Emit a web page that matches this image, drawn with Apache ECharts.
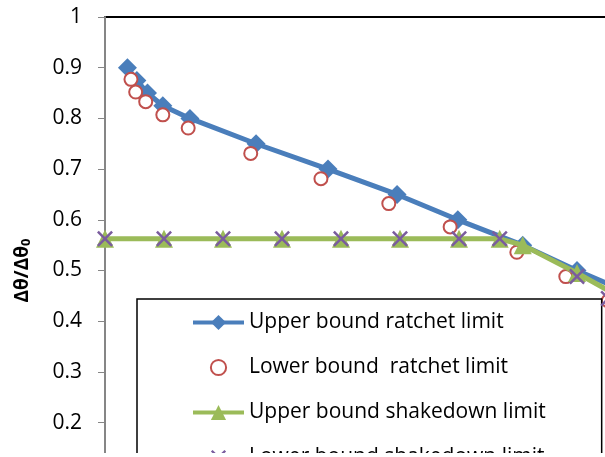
<!DOCTYPE html>
<html><head><meta charset="utf-8">
<script src="https://cdn.jsdelivr.net/npm/echarts@6/dist/echarts.min.js"></script>
<style>html,body{margin:0;padding:0;background:#fff;overflow:hidden;}#wrap{width:605px;height:453px;overflow:hidden;position:relative;}#c{width:720px;height:600px;}</style>
</head><body><div id="wrap"><div id="c"></div></div>
<script>
// Data (x in relative units, y = Δθ/Δθ0)
const upperRatchetX = [0.038, 0.054, 0.072, 0.098, 0.144, 0.256, 0.378, 0.495, 0.598, 0.708, 0.800, 0.900];
const upperRatchetY = [0.900, 0.875, 0.850, 0.825, 0.800, 0.750, 0.700, 0.650, 0.600, 0.550, 0.500, 0.450];
const lowerRatchetX = [0.044, 0.052, 0.069, 0.098, 0.141, 0.247, 0.366, 0.481, 0.585, 0.698, 0.781, 0.853];
const lowerRatchetY = [0.877, 0.852, 0.833, 0.807, 0.781, 0.731, 0.681, 0.632, 0.586, 0.536, 0.488, 0.440];
const upperShakeX = [0.0, 0.1, 0.2, 0.3, 0.4, 0.5, 0.6, 0.669, 0.708, 0.800, 0.900];
const upperShakeY = [0.5625, 0.5625, 0.5625, 0.5625, 0.5625, 0.5625, 0.5625, 0.5625, 0.550, 0.495, 0.430];
const lowerShakeX = [0.0, 0.1, 0.2, 0.3, 0.4, 0.5, 0.6, 0.669, 0.800, 0.853];
const lowerShakeY = [0.5625, 0.5625, 0.5625, 0.5625, 0.5625, 0.5625, 0.5625, 0.5625, 0.488, 0.445];
const seriesNames = ['Upper bound ratchet limit', 'Lower bound  ratchet limit', 'Upper bound shakedown limit', 'Lower bound shakedown limit'];
const yTickLabels = ['0', '0.1', '0.2', '0.3', '0.4', '0.5', '0.6', '0.7', '0.8', '0.9', '1'];

const zip = (xs, ys) => xs.map((x, i) => [x, ys[i]]);
const FONT = 'Open Sans';
const crossPath = 'path://M0,1.1L1.1,0L5,3.9L8.9,0L10,1.1L6.1,5L10,8.9L8.9,10L5,6.1L1.1,10L0,8.9L3.9,5Z';

const chart = echarts.init(document.getElementById('c'), null, {renderer: 'canvas'});
chart.setOption({
  animation: false,
  backgroundColor: '#fff',
  textStyle: {fontFamily: FONT},
  grid: {left: 105, top: 17, width: 590, height: 507, show: true, borderColor: '#000', borderWidth: 2, backgroundColor: 'transparent', containLabel: false, outerBoundsMode: 'none'},
  xAxis: {type: 'value', min: 0, max: 1, show: false},
  yAxis: {
    type: 'value', min: 0, max: 1, interval: 0.1,
    axisLine: {show: true, lineStyle: {color: '#868686', width: 2}},
    axisTick: {show: true, length: 7, lineStyle: {color: '#868686', width: 1}},
    splitLine: {show: false},
    axisLabel: {
      margin: 23, fontSize: 21, color: '#000', fontFamily: FONT,
      formatter: (v) => yTickLabels[Math.round(v * 10)]
    },
    name: '{a|Δθ/Δθ}{b|0}',
    nameLocation: 'middle', nameGap: 72, nameRotate: 90,
    nameTextStyle: {
      rich: {
        a: {fontSize: 19, fontWeight: 'bold', color: '#000', fontFamily: FONT},
        b: {fontSize: 13, fontWeight: 'bold', color: '#000', fontFamily: FONT, verticalAlign: 'bottom', padding: [8, 0, 0, 0]}
      }
    }
  },
  legend: {
    orient: 'vertical', left: 137, top: 299,
    borderColor: '#000', borderWidth: 1.5, backgroundColor: '#fff',
    padding: [12, 56, 60, 54],
    itemWidth: 51, itemHeight: 19, itemGap: 22,
    textStyle: {fontSize: 21, color: '#000', fontFamily: FONT, lineHeight: 23},
    data: [
      {name: seriesNames[0], lineStyle: {width: 4}},
      {name: seriesNames[1], lineStyle: {width: 0, opacity: 0}},
      {name: seriesNames[2], lineStyle: {width: 4}},
      {name: seriesNames[3], lineStyle: {width: 0, opacity: 0}}
    ]
  },
  series: [
    {
      name: seriesNames[0], type: 'line', data: zip(upperRatchetX, upperRatchetY),
      symbol: 'diamond', symbolSize: 19, z: 2,
      lineStyle: {color: '#4A7EBB', width: 5}, itemStyle: {color: '#4A7EBB'}
    },
    {
      name: seriesNames[1], type: 'line', data: zip(lowerRatchetX, lowerRatchetY),
      symbol: 'emptyCircle', symbolSize: 13, z: 3,
      lineStyle: {width: 0, opacity: 0},
      itemStyle: {color: '#C0504D', borderColor: '#C0504D', borderWidth: 2}
    },
    {
      name: seriesNames[2], type: 'line', data: zip(upperShakeX, upperShakeY),
      symbol: 'triangle', symbolSize: 18, z: 4,
      lineStyle: {color: '#9BBB59', width: 5}, itemStyle: {color: '#9BBB59'}
    },
    {
      name: seriesNames[3], type: 'line', data: zip(lowerShakeX, lowerShakeY),
      symbol: crossPath, symbolSize: 16, z: 5,
      lineStyle: {width: 0, opacity: 0},
      itemStyle: {color: '#7A5C9E'}
    }
  ]
});
</script></body></html>
